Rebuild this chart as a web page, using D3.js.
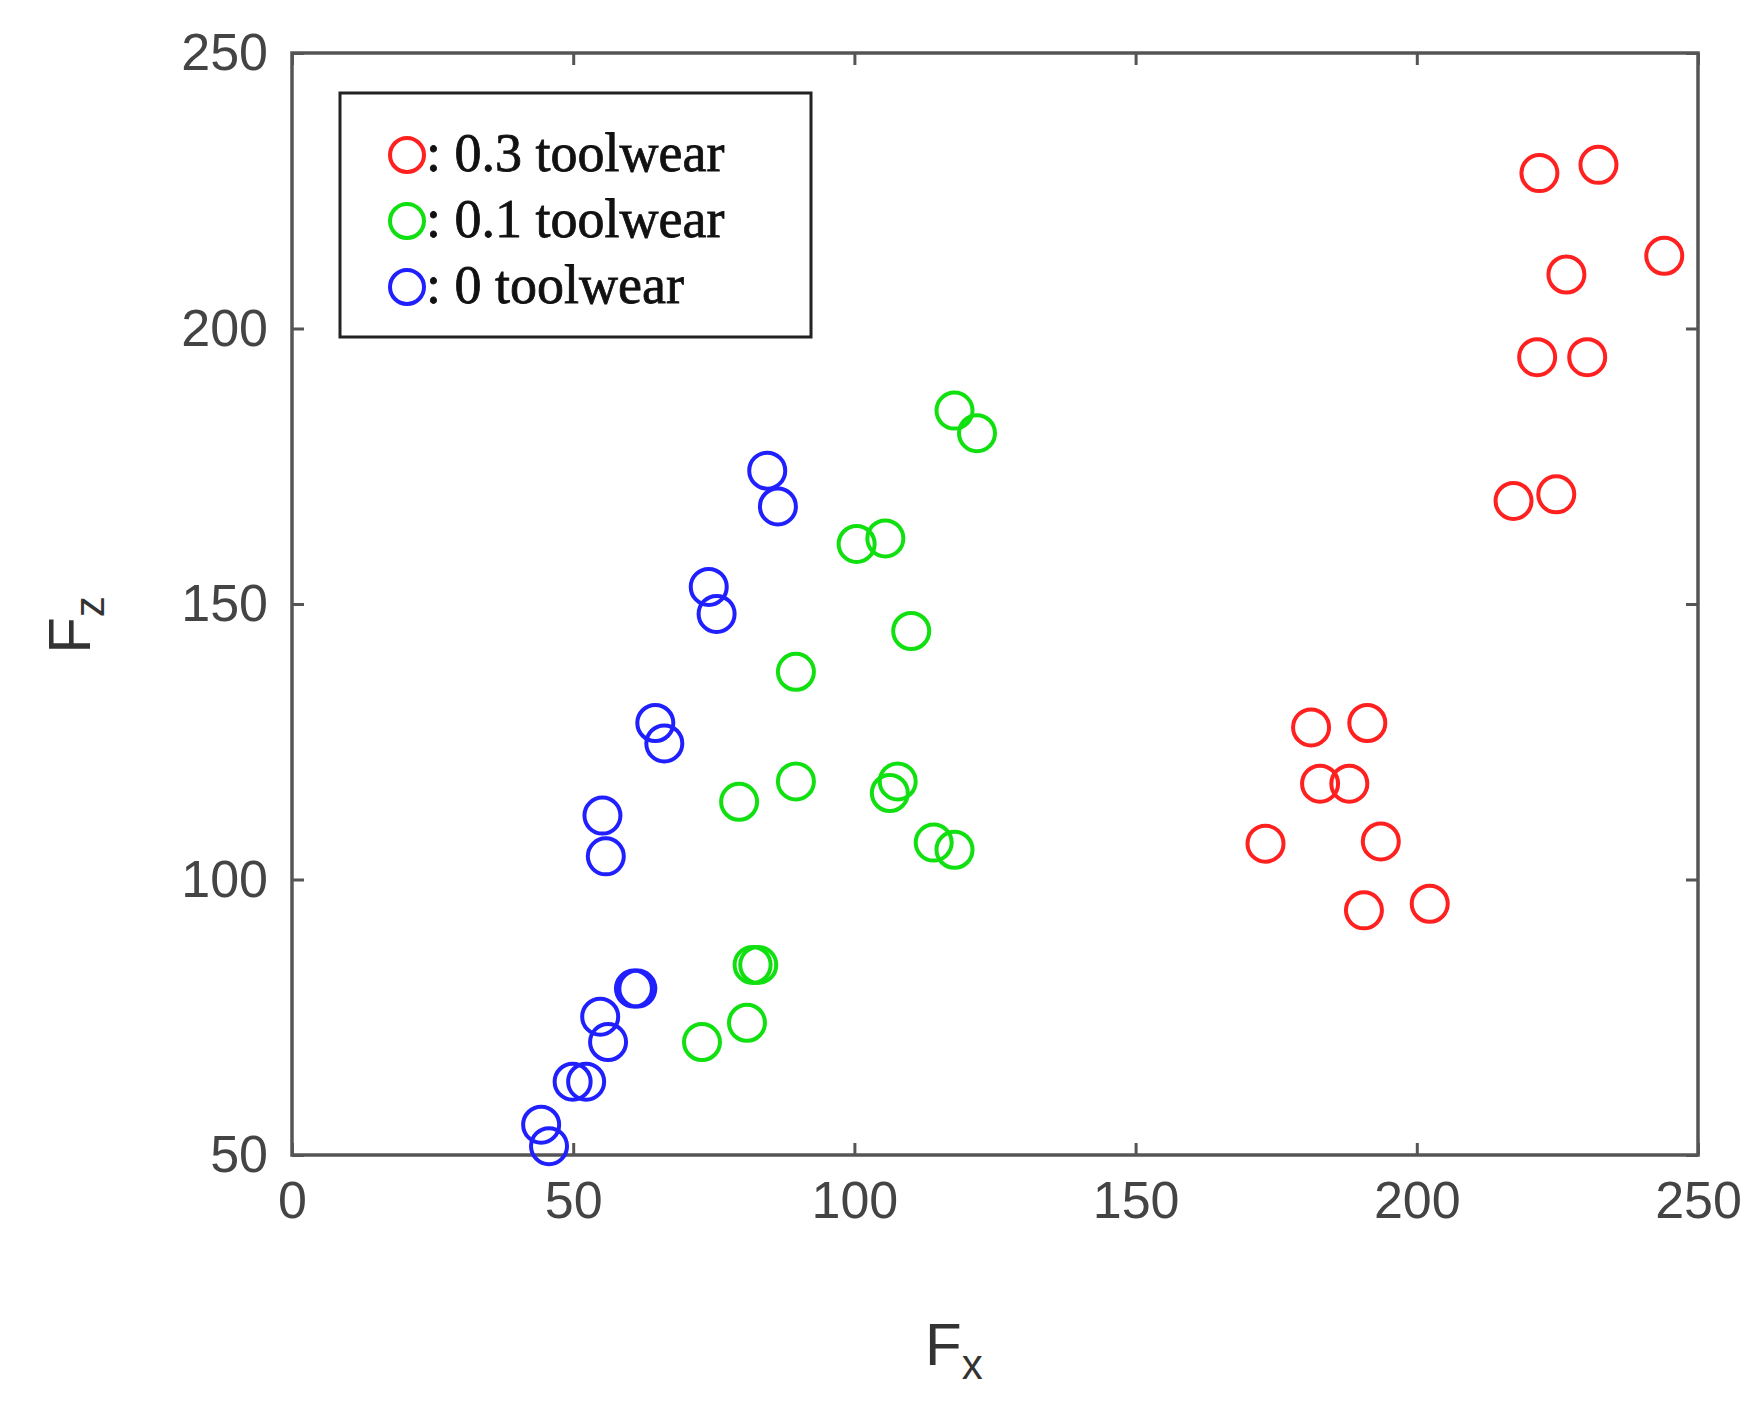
<!DOCTYPE html>
<html><head><meta charset="utf-8">
<script src="https://cdn.jsdelivr.net/npm/d3@7"></script>
<style>body{margin:0;background:#fff}</style></head>
<body><svg id="c" width="1755" height="1401"></svg>
<script>
var seriesNames = [": 0.3 toolwear", ": 0.1 toolwear", ": 0 toolwear"];
var seriesColors = ["#ff2020", "#10e010", "#2020ff"];
var redX = [221.8,232.3,244,226.6,221.4,230.3,217.2,224.8,181.2,191.2,182.8,188,173.1,193.6,190.6,202.3];
var redY = [228.2,229.7,213.2,209.8,194.8,194.8,168.7,169.9,127.6,128.4,117.4,117.4,106.5,106.9,94.4,95.6];
var greenX = [117.8,121.8,100.4,105.5,110.1,89.6,89.6,79.5,107.7,106.3,114.1,117.8,81.9,82.9,80.9,72.9];
var greenY = [185.1,181,160.9,161.9,145.1,137.7,117.8,114.1,117.8,115.7,106.7,105.4,84.5,84.5,74,70.5];
var blueX = [84.5,86.4,74.1,75.5,64.6,66.2,55.2,55.8,61.4,60.8,54.8,56.2,49.9,52.3,44.3,45.7];
var blueY = [174.2,167.7,153.1,148.2,128.4,124.7,111.6,104.2,80.2,80.2,75.1,70.5,63.3,63.3,55.5,51.6];
var xTicks = [0,50,100,150,200,250];
var yTicks = [50,100,150,200,250];

var svg = d3.select("#c");
var L = 292, R = 1698, T = 53, B = 1155;
var x = d3.scaleLinear().domain([0,250]).range([L,R]);
var y = d3.scaleLinear().domain([50,250]).range([B,T]);
var tickFont = "Liberation Sans, Arial, sans-serif";

svg.append("rect").attr("x",L).attr("y",T).attr("width",R-L).attr("height",B-T)
  .attr("fill","none").attr("stroke","#555").attr("stroke-width",3.5);

function axis(a, tr) {
  var g = svg.append("g").attr("transform", tr).call(a);
  g.select(".domain").remove();
  g.selectAll("line").attr("stroke","#555").attr("stroke-width",3);
  g.selectAll("text").attr("font-family",tickFont).attr("font-size",52).attr("fill","#444");
  return g;
}
axis(d3.axisBottom(x).tickValues(xTicks).tickSize(-12).tickPadding(26), "translate(0,"+B+")");
axis(d3.axisTop(x).tickValues(xTicks).tickSize(-12).tickFormat(""), "translate(0,"+T+")");
axis(d3.axisLeft(y).tickValues(yTicks).tickSize(-12).tickPadding(24), "translate("+L+",0)");
axis(d3.axisRight(y).tickValues(yTicks).tickSize(-12).tickFormat(""), "translate("+R+",0)");

var series = [[redX,redY],[greenX,greenY],[blueX,blueY]];
series.forEach(function(s,i){
  svg.append("g").selectAll("circle").data(d3.range(s[0].length)).enter().append("circle")
    .attr("cx", function(j){return x(s[0][j]);})
    .attr("cy", function(j){return y(s[1][j]);})
    .attr("r",18).attr("fill","none").attr("stroke",seriesColors[i]).attr("stroke-width",4);
});

// legend
var lg = svg.append("g");
lg.append("rect").attr("x",340).attr("y",93).attr("width",471).attr("height",244)
  .attr("fill","#fff").attr("stroke","#222").attr("stroke-width",3);
seriesNames.forEach(function(n,i){
  var cy = 155 + i*66;
  lg.append("circle").attr("cx",407).attr("cy",cy).attr("r",17).attr("fill","none")
    .attr("stroke",seriesColors[i]).attr("stroke-width",4);
  lg.append("text").attr("x",426).attr("y",cy+16).text(n)
    .attr("font-family","Liberation Serif, Times New Roman, serif").attr("font-size",54)
    .attr("fill","#111").attr("stroke","#111").attr("stroke-width",0.8);
});

// axis labels
svg.append("text").attr("x",925).attr("y",1365).attr("font-family",tickFont).attr("font-size",60).attr("fill","#333")
  .text("F").append("tspan").attr("font-size",42).attr("dy",14).text("x");
svg.append("text").attr("transform","translate(90,625) rotate(-90)").attr("text-anchor","middle")
  .attr("font-family",tickFont).attr("font-size",60).attr("fill","#333")
  .text("F").append("tspan").attr("font-size",42).attr("dy",14).text("z");
</script></body></html>
